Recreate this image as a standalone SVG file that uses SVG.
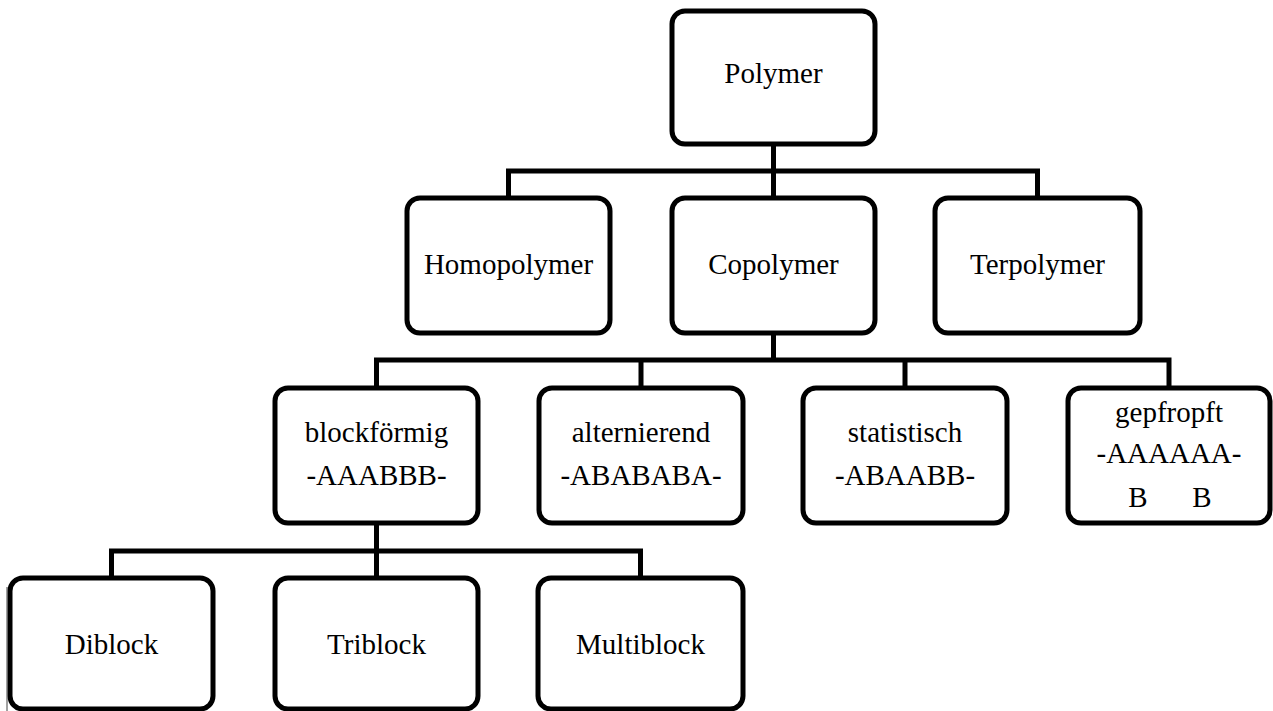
<svg xmlns="http://www.w3.org/2000/svg" width="1273" height="711" viewBox="0 0 1273 711">
<style>
.box{fill:#fff;stroke:#000;stroke-width:5}
.lbl{font-family:"Liberation Serif","Times New Roman",serif;font-size:29px;fill:#000;text-anchor:middle}
.con{fill:none;stroke:#000;stroke-width:5;stroke-linejoin:miter;stroke-linecap:butt}
</style>
<rect width="1273" height="711" fill="#fff"/>
<g id="connectors">
<path class="con" d="M773.5 144V198M508.5 198V171H1037.5V198"/>
<path class="con" d="M773.5 333V360M376.5 388V360H1169V388M641 360V388M905 360V388"/>
<path class="con" d="M376.5 523V578M111.5 578V551H640.5V578"/>
</g>
<g id="n-polymer"><rect class="box" x="672" y="11" width="203" height="133" rx="13"/><text class="lbl" x="773.5" y="83">Polymer</text></g>
<g id="n-homopolymer"><rect class="box" x="407" y="198" width="203" height="135" rx="13"/><text class="lbl" x="508.5" y="274">Homopolymer</text></g>
<g id="n-copolymer"><rect class="box" x="672" y="198" width="203" height="135" rx="13"/><text class="lbl" x="773.5" y="274">Copolymer</text></g>
<g id="n-terpolymer"><rect class="box" x="935" y="198" width="205" height="135" rx="13"/><text class="lbl" x="1037.5" y="274">Terpolymer</text></g>
<g id="n-blockfoermig"><rect class="box" x="275" y="388" width="203" height="135" rx="13"/><text class="lbl" x="376.5" y="442">blockförmig</text><text class="lbl" x="376.5" y="485">-AAABBB-</text></g>
<g id="n-alternierend"><rect class="box" x="539" y="388" width="204" height="135" rx="13"/><text class="lbl" x="641" y="442">alternierend</text><text class="lbl" x="641" y="485">-ABABABA-</text></g>
<g id="n-statistisch"><rect class="box" x="803" y="388" width="204" height="135" rx="13"/><text class="lbl" x="905" y="442">statistisch</text><text class="lbl" x="905" y="485">-ABAABB-</text></g>
<g id="n-gepfropft"><rect class="box" x="1068" y="388" width="202" height="135" rx="13"/><text class="lbl" x="1169" y="422">gepfropft</text><text class="lbl" x="1169" y="463">-AAAAAA-</text><text class="lbl" y="507"><tspan x="1138">B</tspan><tspan x="1202">B</tspan></text></g>
<g id="n-diblock"><rect class="box" x="10" y="578" width="203" height="131" rx="13"/><text class="lbl" x="111.5" y="654">Diblock</text></g>
<g id="n-triblock"><rect class="box" x="275" y="578" width="203" height="131" rx="13"/><text class="lbl" x="376.5" y="654">Triblock</text></g>
<g id="n-multiblock"><rect class="box" x="538" y="578" width="205" height="131" rx="13"/><text class="lbl" x="640.5" y="654">Multiblock</text></g>
<line x1="7" y1="587" x2="7" y2="711" stroke="#444" stroke-width="1"/>
</svg>
